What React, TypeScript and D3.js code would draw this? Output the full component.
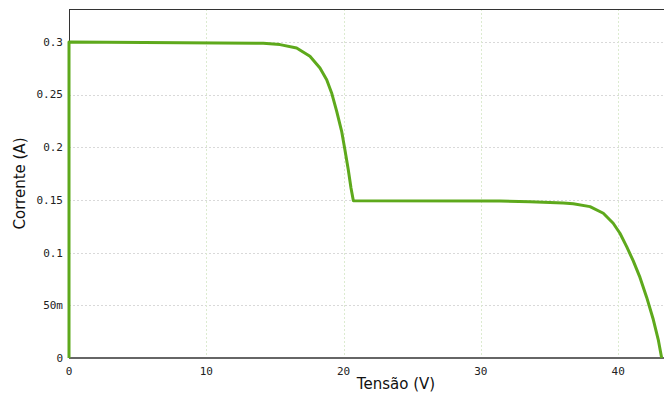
import { useEffect, useRef } from 'react';
import * as d3 from 'd3';

// I-V curve (volts, amps)
const voltage = [0, 0, 14.15, 15.37, 16.58, 17.55, 18.28, 18.77, 19.13, 19.5, 19.86, 20.1, 20.34, 20.54, 20.71, 20.76, 31.39, 33.58, 36.0, 36.73, 37.95, 38.92, 39.64, 40.13, 40.62, 41.1, 41.59, 42.08, 42.56, 42.92, 43.17];
const current = [0, 0.3, 0.2988, 0.2975, 0.2943, 0.2864, 0.2753, 0.2642, 0.2516, 0.2342, 0.2152, 0.1975, 0.179, 0.1614, 0.1495, 0.1492, 0.149, 0.1484, 0.1472, 0.1465, 0.1437, 0.1374, 0.1279, 0.1184, 0.1057, 0.0922, 0.0765, 0.0575, 0.0365, 0.0175, 0];

const xTicks = [0, 10, 20, 30, 40];
const yTicks = [0, 0.05, 0.1, 0.15, 0.2, 0.25, 0.3];
const yTickLabels = ['0', '50m', '0.1', '0.15', '0.2', '0.25', '0.3'];

export default function App() {
  const svgRef = useRef<SVGSVGElement>(null);

  useEffect(() => {
    if (!svgRef.current) return;
    const width = 664;
    const height = 394;
    const margin = { top: 9, right: 0, bottom: 36, left: 69 };

    const svg = d3.select(svgRef.current);
    svg.selectAll('*').remove();
    svg.attr('width', width).attr('height', height);

    const x = d3.scaleLinear().domain([0, 43.34]).range([margin.left, width - margin.right]);
    const y = d3.scaleLinear().domain([0, 0.3313]).range([height - margin.bottom, margin.top]);

    // grid
    svg.append('g')
      .selectAll('line')
      .data(yTicks.slice(1))
      .enter()
      .append('line')
      .attr('x1', margin.left)
      .attr('x2', width - margin.right)
      .attr('y1', (d) => Math.round(y(d)) + 0.5)
      .attr('y2', (d) => Math.round(y(d)) + 0.5)
      .attr('stroke', '#d9d9d9')
      .attr('stroke-dasharray', '2,2');

    svg.append('g')
      .selectAll('line')
      .data(xTicks.slice(1))
      .enter()
      .append('line')
      .attr('x1', (d) => Math.round(x(d)) + 0.5)
      .attr('x2', (d) => Math.round(x(d)) + 0.5)
      .attr('y1', margin.top)
      .attr('y2', height - margin.bottom)
      .attr('stroke', '#dcebd0')
      .attr('stroke-dasharray', '2,2');

    // frame
    svg.append('line')
      .attr('x1', margin.left).attr('x2', width)
      .attr('y1', margin.top + 0.5).attr('y2', margin.top + 0.5)
      .attr('stroke', '#333');
    svg.append('line')
      .attr('x1', margin.left + 0.5).attr('x2', margin.left + 0.5)
      .attr('y1', margin.top).attr('y2', height - margin.bottom)
      .attr('stroke', '#333');
    svg.append('line')
      .attr('x1', margin.left).attr('x2', width)
      .attr('y1', height - margin.bottom).attr('y2', height - margin.bottom)
      .attr('stroke', '#666')
      .attr('stroke-width', 2);

    // curve
    const pts = voltage.map((v, i) => [v, current[i]] as [number, number]);
    const line = d3.line<[number, number]>()
      .x((d) => x(d[0]))
      .y((d) => y(d[1]));
    svg.append('path')
      .datum(pts)
      .attr('d', line)
      .attr('fill', 'none')
      .attr('stroke', '#5ea91c')
      .attr('stroke-width', 3)
      .attr('stroke-linejoin', 'round');

    // tick labels
    const mono = '"DejaVu Sans Mono", monospace';
    svg.append('g')
      .selectAll('text')
      .data(xTicks)
      .enter()
      .append('text')
      .attr('x', (d) => x(d))
      .attr('y', height - margin.bottom + 17)
      .attr('text-anchor', 'middle')
      .attr('font-family', mono)
      .attr('font-size', 11)
      .attr('fill', '#222')
      .text((d) => d);

    svg.append('g')
      .selectAll('text')
      .data(yTicks)
      .enter()
      .append('text')
      .attr('x', margin.left - 6)
      .attr('y', (d) => y(d))
      .attr('dy', '0.35em')
      .attr('text-anchor', 'end')
      .attr('font-family', mono)
      .attr('font-size', 11)
      .attr('fill', '#222')
      .text((d, i) => yTickLabels[i]);

    // axis titles
    svg.append('text')
      .attr('x', 396)
      .attr('y', 389)
      .attr('text-anchor', 'middle')
      .attr('font-family', '"DejaVu Sans", sans-serif')
      .attr('font-size', 15)
      .attr('fill', '#111')
      .text('Tensão (V)');

    svg.append('text')
      .attr('transform', `translate(25,${(margin.top + height - margin.bottom) / 2}) rotate(-90)`)
      .attr('text-anchor', 'middle')
      .attr('font-family', '"DejaVu Sans", sans-serif')
      .attr('font-size', 15)
      .attr('fill', '#111')
      .text('Corrente (A)');
  }, []);

  return (
    <div style={{ position: 'absolute', left: 0, top: 0 }}>
      <svg ref={svgRef} style={{ display: 'block' }} />
    </div>
  );
}
